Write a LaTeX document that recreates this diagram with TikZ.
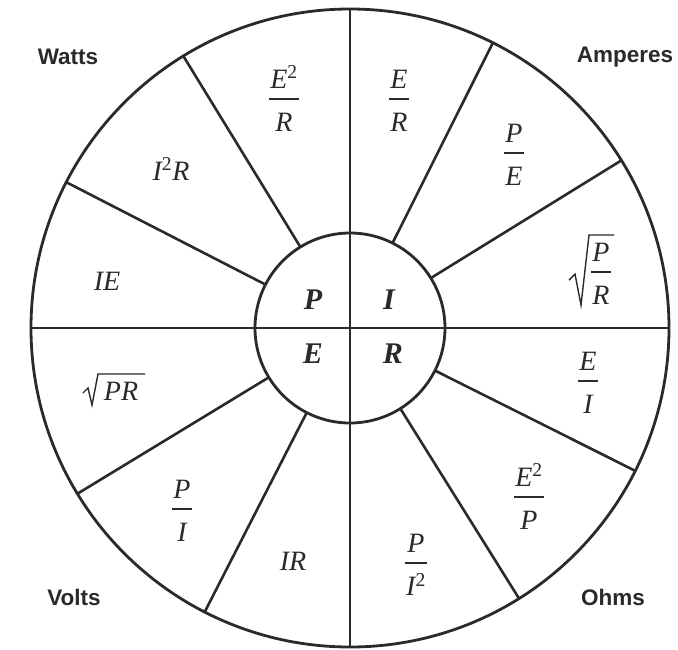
\documentclass[tikz,border=0pt]{standalone}
\usepackage{fontspec}
\setmainfont{Liberation Serif}
\newfontfamily\labfont{Liberation Sans}
\usepackage{array}
\definecolor{ink}{HTML}{2A2A2A}
\newcommand{\fr}[2]{{\setlength{\arrayrulewidth}{1.5pt}\begin{tabular}[b]{@{\hspace{1.5pt}}c@{\hspace{1.5pt}}}#1\\[0pt]\hline\rule{0pt}{31.5pt}#2\end{tabular}}}
\newcommand{\sq}{\textsuperscript{\upshape 2}}
\begin{document}
\begin{tikzpicture}[x=1pt,y=-1pt,
  wheel/.style={line width=2.8pt, draw=ink},
  spoke/.style={line width=2.6pt, draw=ink},
  radline/.style={line width=1.4pt, draw=ink, line join=miter},
  unitlab/.style={font=\labfont\bfseries\fontsize{22.5}{27}\selectfont, text=ink, inner sep=0pt},
  formula/.style={font=\itshape\fontsize{28}{34}\selectfont, text=ink, inner sep=0pt},
  core/.style={font=\bfseries\itshape\fontsize{30}{36}\selectfont, text=ink, inner sep=0pt}]
\useasboundingbox (0,0) rectangle (678,649);
\fill[white] (0,0) rectangle (678,649);
\coordinate (c) at (350,328);
% circles
\draw[wheel] (c) circle[radius=319pt];
\draw[wheel] (c) circle[radius=95pt];
% diameters
\draw[spoke] ([shift={(90:319pt)}]c) -- ([shift={(270:319pt)}]c);
\draw[spoke] ([shift={(180:319pt)}]c) -- ([shift={(0:319pt)}]c);
% spokes
\foreach \a in {152.8,121.5,63.4,31.7,211.3,242.9,302,333.4}
  \draw[spoke] ([shift={(\a:95pt)}]c) -- ([shift={(\a:319pt)}]c);
% corner labels
\node[unitlab] (watts) at (68,57) {Watts};
\node[unitlab] (amps) at (625,57) {Amperes};
\node[unitlab] (volts) at (74,597) {Volts};
\node[unitlab] (ohms) at (613,597) {Ohms};
% core letters
\node[core] (cP) at (313,300) {P};
\node[core] (cI) at (389,300) {I};
\node[core] (cE) at (313,354) {E};
\node[core] (cR) at (393,354) {R};
% formulas
\node[formula, anchor=base] (f1) at (284,131.2) {\fr{E\sq}{R}};
\node[formula, anchor=base] (f2) at (399,131.2) {\fr{E}{R}};
\node[formula] (f3) at (171,169) {I\sq R};
\node[formula, anchor=base] (f4) at (514,185.2) {\fr{P}{E}};
\node[formula] (f5) at (107,281) {IE};
\node[formula, anchor=base] (f6) at (601,304.2) {\fr{P}{R}};
\draw[radline] (569,280) -- (575,274) -- (581,305) -- (589,235) -- (614,235);
\node[formula] (f7) at (121,391) {PR};
\draw[radline] (83,393) -- (88,388) -- (92,405) -- (98,374) -- (145,374);
\node[formula, anchor=base] (f8) at (588,413.2) {\fr{E}{I}};
\node[formula, anchor=base] (f9) at (529,529.2) {\fr{E\sq}{P}};
\node[formula, anchor=base] (f10) at (182,541.2) {\fr{P}{I}};
\node[formula] (f11) at (293,561) {IR};
\node[formula, anchor=base] (f12) at (416,595.2) {\fr{P}{I\sq}};
\end{tikzpicture}
\end{document}
